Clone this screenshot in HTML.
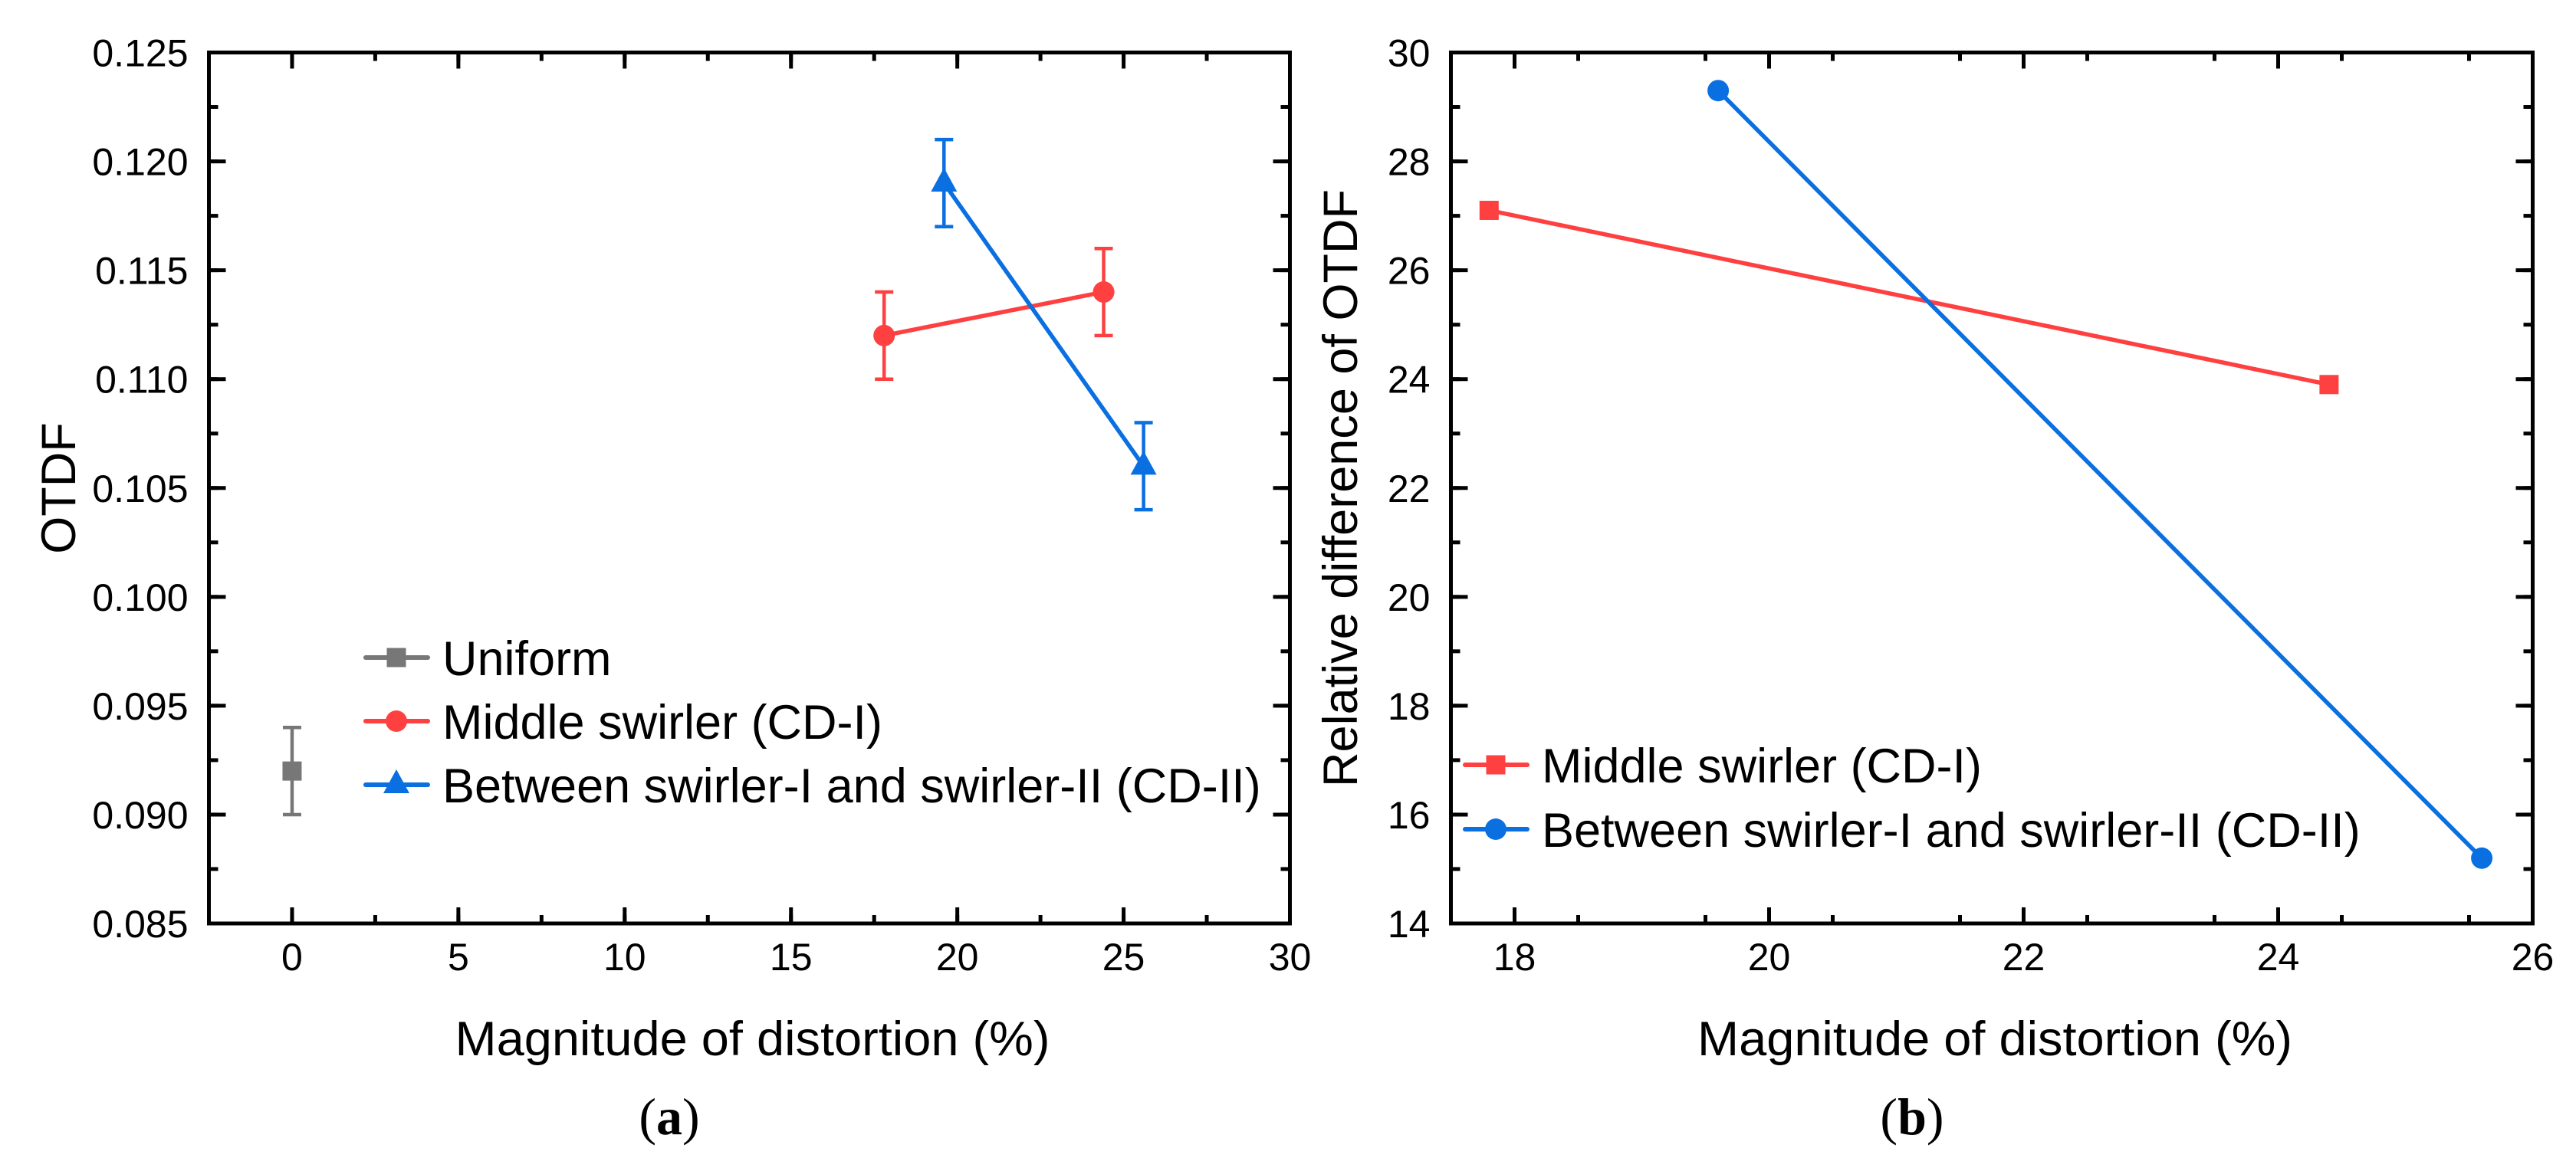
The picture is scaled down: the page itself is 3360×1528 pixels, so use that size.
<!DOCTYPE html>
<html><head><meta charset="utf-8"><style>
html,body{margin:0;padding:0;background:#fff;}
svg{display:block;font-family:"Liberation Sans",sans-serif;}
</style></head><body>
<svg id="fig" width="3360" height="1528" viewBox="0 0 3360 1528" xmlns="http://www.w3.org/2000/svg">
<g id="pa"></g>
<g id="pb"></g>
</svg>
<script>
// Panel (a) data
const aUniformX = [0];
const aUniformY = [0.092];
const aUniformErr = [0.002];
const aMiddleX = [17.8, 24.4];
const aMiddleY = [0.112, 0.114];
const aMiddleErr = [0.002, 0.002];
const aBetweenX = [19.6, 25.6];
const aBetweenY = [0.119, 0.106];
const aBetweenErr = [0.002, 0.002];
const aXTicks = [0, 5, 10, 15, 20, 25, 30];
const aYTicks = [0.085, 0.090, 0.095, 0.100, 0.105, 0.110, 0.115, 0.120, 0.125];
// Panel (b) data
const bMiddleX = [17.8, 24.4];
const bMiddleY = [27.1, 23.9];
const bBetweenX = [19.6, 25.6];
const bBetweenY = [29.3, 15.2];
const bXTicks = [18, 20, 22, 24, 26];
const bYTicks = [14, 16, 18, 20, 22, 24, 26, 28, 30];

const NS = "http://www.w3.org/2000/svg";
const GRAY = "#777777", RED = "#ff4040", BLUE = "#0a6fe0";
function mk(parent, tag, attrs, text) {
  const e = document.createElementNS(NS, tag);
  for (const k in attrs) e.setAttribute(k, attrs[k]);
  if (text !== undefined) e.textContent = text;
  parent.appendChild(e);
  return e;
}
function marker(g, shape, cx, cy, color) {
  let m;
  if (shape === 'square') m = mk(g, 'rect', {x: cx - 12.5, y: cy - 12.5, width: 25, height: 25, fill: color});
  else if (shape === 'circle') m = mk(g, 'circle', {cx: cx, cy: cy, r: 14, fill: color});
  else m = mk(g, 'polygon', {points: `${cx},${cy - 20} ${cx - 17},${cy + 11} ${cx + 17},${cy + 11}`, fill: color});
  return m;
}
function panel(g, o) {
  const L = o.L, R = o.R, T = 68.5, B = 1205;
  const sx = v => L + (v - o.x0) / (o.x1 - o.x0) * (R - L);
  const sy = v => B - (v - o.y0) / (o.y1 - o.y0) * (B - T);
  for (let v = o.x0; v <= o.x1 + 1e-9; v += o.xMinor) {
    const x = sx(v);
    const t1 = mk(g, 'line', {x1: x, x2: x, y1: B, y2: B - 11, stroke: '#000', 'stroke-width': 5});
    
    
    const t2 = mk(g, 'line', {x1: x, x2: x, y1: T, y2: T + 11, stroke: '#000', 'stroke-width': 5});
    
    
  }
  for (let v = o.y0; v <= o.y1 + 1e-9; v += o.yMinor) {
    const y = sy(v);
    const t1 = mk(g, 'line', {x1: L, x2: L + 12, y1: y, y2: y, stroke: '#000', 'stroke-width': 5});
    
    
    const t2 = mk(g, 'line', {x1: R, x2: R - 12, y1: y, y2: y, stroke: '#000', 'stroke-width': 5});
    
    
  }
  o.xTicks.forEach(v => {
    const x = sx(v);
    const t1 = mk(g, 'line', {x1: x, x2: x, y1: B, y2: B - 21, stroke: '#000', 'stroke-width': 5});
    
    
    const t2 = mk(g, 'line', {x1: x, x2: x, y1: T, y2: T + 21, stroke: '#000', 'stroke-width': 5});
    
    
    const lb = mk(g, 'text', {x: x, y: 1266, 'font-size': 50, 'text-anchor': 'middle', fill: '#000'}, String(v));
    
    
  });
  o.yTicks.forEach(v => {
    const y = sy(v);
    const t1 = mk(g, 'line', {x1: L, x2: L + 22, y1: y, y2: y, stroke: '#000', 'stroke-width': 5});
    
    
    const t2 = mk(g, 'line', {x1: R, x2: R - 22, y1: y, y2: y, stroke: '#000', 'stroke-width': 5});
    
    
    const lb = mk(g, 'text', {x: L - 27, y: y + 18, 'font-size': 50, 'text-anchor': 'end', fill: '#000'}, o.yFmt(v));
    
    
  });
  const fr = mk(g, 'rect', {x: L, y: T, width: R - L, height: B - T, fill: 'none', stroke: '#000', 'stroke-width': 5});
  
  
  o.series.forEach(s => {
    const sg = mk(g, 'g', {});
    
    
    if (s.x.length > 1) {
      const pl = mk(sg, 'polyline', {points: s.x.map((v, i) => sx(v) + ',' + sy(s.y[i])).join(' '), fill: 'none', stroke: s.color, 'stroke-width': 5.5});
      
      
    }
    s.x.forEach((v, i) => {
      const cx = sx(v), cy = sy(s.y[i]);
      if (s.err) {
        const e = s.err[i];
        const y1 = sy(s.y[i] + e), y2 = sy(s.y[i] - e);
        const eb = mk(sg, 'path', {d: `M${cx},${y1}V${y2}M${cx - 12},${y1}H${cx + 12}M${cx - 12},${y2}H${cx + 12}`, stroke: s.color, 'stroke-width': 4.5, fill: 'none'});
        
        
      }
      const m = marker(sg, s.shape, cx, cy, s.color);
      
      
    });
  });
  o.legend.forEach((s, i) => {
    const y = o.legY + i * o.legGap;
    const lg = mk(g, 'g', {});
    
    
    mk(lg, 'line', {x1: o.legX, x2: o.legX + 81, y1: y, y2: y, stroke: s.color, 'stroke-width': 6, 'stroke-linecap': 'round'});
    marker(lg, s.shape, o.legX + 40, y, s.color);
    mk(lg, 'text', {x: o.legX + 100, y: y + 23, 'font-size': 63, fill: '#000'}, s.label);
  });
  const xt = mk(g, 'text', {x: (L + R) / 2 + 4, y: 1377, 'font-size': 63, 'text-anchor': 'middle', textLength: 776, lengthAdjust: 'spacingAndGlyphs', fill: '#000'}, 'Magnitude of distortion (%)');
  
  
  const yt = mk(g, 'text', {x: 0, y: 0, 'font-size': 63, 'text-anchor': 'middle', transform: `translate(${o.ytX},637) rotate(-90)`, fill: '#000'}, o.ytitle);
  if (o.ytLen) { yt.setAttribute('textLength', o.ytLen); yt.setAttribute('lengthAdjust', 'spacingAndGlyphs'); }
  
  
  const cap = mk(g, 'text', {x: o.capX, y: 1480, 'font-size': 68, 'text-anchor': 'middle', 'font-family': '"Liberation Serif",serif', fill: '#000'});
  mk(cap, 'tspan', {}, '(');
  mk(cap, 'tspan', {'font-weight': 'bold'}, o.cap);
  mk(cap, 'tspan', {}, ')');
  
  
}
panel(document.getElementById('pa'), {
  L: 272.5, R: 1682.5, x0: -2.5, x1: 30, y0: 0.085, y1: 0.125, xMinor: 2.5, yMinor: 0.0025,
  xTicks: aXTicks, yTicks: aYTicks, yFmt: v => v.toFixed(3),
  series: [
    {name: 'uniform-series', x: aUniformX, y: aUniformY, err: aUniformErr, color: GRAY, shape: 'square'},
    {name: 'middle-swirler-series', x: aMiddleX, y: aMiddleY, err: aMiddleErr, color: RED, shape: 'circle'},
    {name: 'between-swirler-series', x: aBetweenX, y: aBetweenY, err: aBetweenErr, color: BLUE, shape: 'triangle'}
  ],
  legend: [
    {label: 'Uniform', color: GRAY, shape: 'square'},
    {label: 'Middle swirler (CD-I)', color: RED, shape: 'circle'},
    {label: 'Between swirler-I and swirler-II (CD-II)', color: BLUE, shape: 'triangle'}
  ],
  legX: 477, legY: 858, legGap: 83,
  ytitle: 'OTDF', ytX: 98, capX: 873, cap: 'a'
});
panel(document.getElementById('pb'), {
  L: 1892.5, R: 3303.5, x0: 17.5, x1: 26, y0: 14, y1: 30, xMinor: 1, yMinor: 1,
  xTicks: bXTicks, yTicks: bYTicks, yFmt: v => String(v),
  series: [
    {name: 'middle-swirler-series', x: bMiddleX, y: bMiddleY, color: RED, shape: 'square'},
    {name: 'between-swirler-series', x: bBetweenX, y: bBetweenY, color: BLUE, shape: 'circle'}
  ],
  legend: [
    {label: 'Middle swirler (CD-I)', color: RED, shape: 'square'},
    {label: 'Between swirler-I and swirler-II (CD-II)', color: BLUE, shape: 'circle'}
  ],
  legX: 1911, legY: 998, legGap: 84,
  ytitle: 'Relative difference of OTDF', ytX: 1770, ytLen: 780, capX: 2494, cap: 'b'
});
</script>
</body></html>
